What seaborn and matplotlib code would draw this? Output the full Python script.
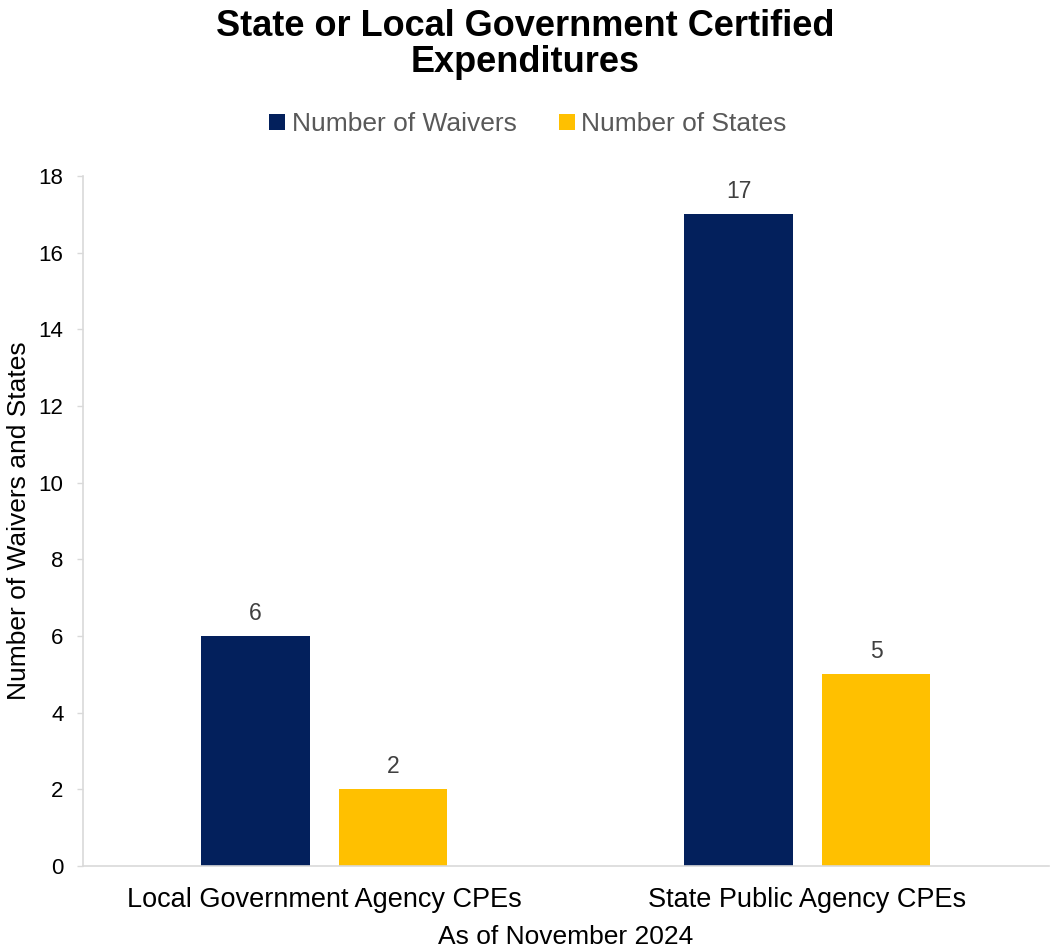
import matplotlib
matplotlib.use("Agg")
import matplotlib.pyplot as plt
import seaborn as sns
import pandas as pd

# Data
categories = ["Local Government Agency CPEs", "State Public Agency CPEs"]
series_names = ["Number of Waivers", "Number of States"]
waivers = [6, 17]
states = [2, 5]
y_ticks = [0, 2, 4, 6, 8, 10, 12, 14, 16, 18]

colors = ["#03205C", "#FFC000"]

sns.set_theme(style="white")
plt.rcParams["font.family"] = ["Liberation Sans", "DejaVu Sans"]

df = pd.DataFrame({
    "category": categories * 2,
    "series": [series_names[0]] * 2 + [series_names[1]] * 2,
    "value": waivers + states,
})

fig = plt.figure(figsize=(10.5, 9.51), dpi=100)
ax = fig.add_axes([0.079, 0.0894, 0.92, 0.7256])

sns.barplot(data=df, x="category", y="value", hue="series",
            hue_order=series_names, palette=colors, order=categories,
            width=0.571, gap=0.216, saturation=1, ax=ax, legend=True,
            edgecolor="none", linewidth=0)

ax.set_xlim(-0.5, 1.5)
ax.set_ylim(0, 18)
ax.set_yticks(y_ticks)
ax.set_yticklabels([str(t) for t in y_ticks], fontsize=16, color="black")
ax.tick_params(axis="y", which="major", length=4, width=1, color="#D9D9D9",
               left=True, pad=10)
ax.tick_params(axis="x", length=0, labelsize=19.5, labelcolor="black", pad=15)

for side in ["top", "right"]:
    ax.spines[side].set_visible(False)
for side in ["left", "bottom"]:
    ax.spines[side].set_color("#D9D9D9")
    ax.spines[side].set_linewidth(1.2)

ax.set_xlabel("As of November 2024", fontsize=19, color="black", labelpad=9)
ax.set_ylabel("Number of Waivers and States", fontsize=19, color="black")
ax.yaxis.set_label_coords((7 - 83) / 966, 0.5)
ax.yaxis.label.set_va("top")

# Value labels above bars
for container in ax.containers:
    ax.bar_label(container, fmt="%g", padding=8, fontsize=16.5, color="#404040")

# Legend
handles, labels = ax.get_legend_handles_labels()
ax.legend(handles, labels, loc="center", bbox_to_anchor=((528 - 83) / 966, 1.075),
          ncol=2, frameon=False, fontsize=19, labelcolor="#595959",
          handlelength=0.6, handleheight=0.6, handletextpad=0.25, columnspacing=1.6)

fig.text(0.5, 0.991, "State or Local Government Certified\nExpenditures",
         ha="center", va="top", fontsize=26, fontweight="bold",
         linespacing=1.05, color="black")

fig.savefig("out.png", dpi=100)
